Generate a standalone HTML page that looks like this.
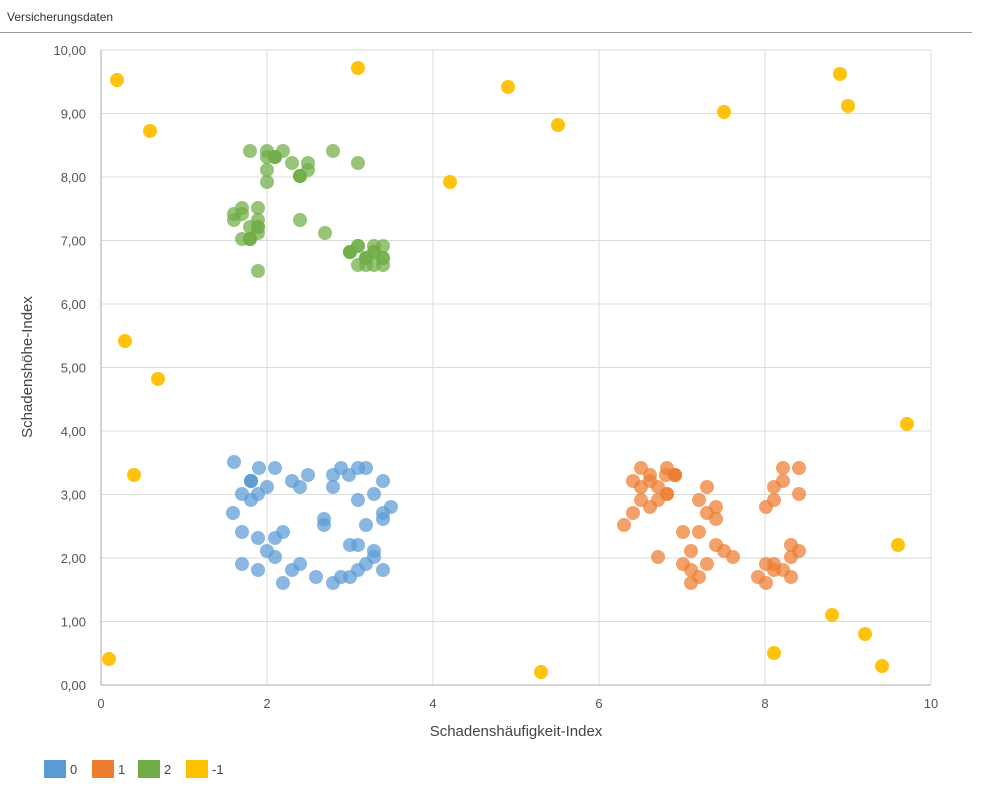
<!DOCTYPE html>
<html><head><meta charset="utf-8"><style>
body{margin:0;background:#fff;font-family:"Liberation Sans",sans-serif;}
</style></head><body>
<svg width="982" height="796" xmlns="http://www.w3.org/2000/svg" font-family="Liberation Sans, sans-serif">
<text x="7" y="21" font-size="12" fill="#333">Versicherungsdaten</text>
<line x1="0" y1="32.5" x2="972" y2="32.5" stroke="#999"/>
<g id="grid" stroke="#dcdcdc" stroke-width="1"></g>
<g id="lab" font-size="13" fill="#555"></g>
<text x="516" y="736" font-size="15" fill="#444" text-anchor="middle">Schadenshäufigkeit-Index</text>
<text transform="translate(32,367) rotate(-90)" font-size="15" fill="#444" text-anchor="middle">Schadenshöhe-Index</text>
<g id="pts"></g>
<rect x="44" y="760" width="22" height="18" fill="#5b9bd5"/><text x="70" y="774" font-size="13" fill="#444">0</text>
<rect x="92" y="760" width="22" height="18" fill="#ed7d31"/><text x="118" y="774" font-size="13" fill="#444">1</text>
<rect x="138" y="760" width="22" height="18" fill="#70ad47"/><text x="164" y="774" font-size="13" fill="#444">2</text>
<rect x="186" y="760" width="22" height="18" fill="#ffc000"/><text x="212" y="774" font-size="13" fill="#444">-1</text>
</svg>
<script>
const NS="http://www.w3.org/2000/svg";
function el(p,t,a,txt){const e=document.createElementNS(NS,t);for(const k in a)e.setAttribute(k,a[k]);if(txt!==undefined)e.textContent=txt;document.getElementById(p).appendChild(e);}
for(let i=0;i<=10;i++){const y=685-i*63.5;el('grid','line',{x1:101,x2:931,y1:y,y2:y});
el('lab','text',{x:86,y:y+5,'text-anchor':'end'},(i+",00"));}
for(let i=0;i<=10;i+=2){const x=101+i*83;el('grid','line',{x1:x,x2:x,y1:50,y2:685});el('lab','text',{x:x,y:708,'text-anchor':'middle'},String(i));}
el('grid','line',{x1:101,x2:101,y1:50,y2:685,stroke:'#aaa'});
el('grid','line',{x1:101,x2:931,y1:685,y2:685,stroke:'#aaa'});
const S={
"#5b9bd5":[[234,462],[251,481],[259,468],[275,468],[242,494],[251,500],[267,487],[258,494],[233,513],[292,481],[300,487],[308,475],[333,475],[341,468],[349,475],[358,468],[366,468],[333,487],[374,494],[383,481],[358,500],[391,507],[383,513],[383,519],[324,519],[324,525],[366,525],[242,532],[258,538],[275,538],[283,532],[267,551],[275,557],[350,545],[358,545],[374,551],[374,557],[242,564],[258,570],[292,570],[300,564],[366,564],[358,570],[283,583],[316,577],[333,583],[341,577],[350,577],[383,570],[251,481],[251,481]],
"#ed7d31":[[641,468],[650,475],[667,468],[633,481],[641,487],[650,481],[658,487],[667,494],[675,475],[666,475],[707,487],[633,513],[624,525],[641,500],[650,507],[658,500],[699,500],[707,513],[716,507],[716,519],[683,532],[699,532],[658,557],[691,551],[716,545],[724,551],[733,557],[683,564],[691,570],[699,577],[691,583],[707,564],[783,468],[799,468],[783,481],[774,487],[774,500],[766,507],[799,494],[791,545],[799,551],[791,557],[766,564],[774,564],[783,570],[774,570],[758,577],[766,583],[791,577],[675,475],[675,475],[667,494]],
"#70ad47":[[250,151],[267,151],[283,151],[333,151],[267,157],[275,157],[292,163],[308,163],[358,163],[267,170],[300,176],[308,170],[267,182],[242,208],[258,208],[234,214],[242,214],[234,220],[258,220],[300,220],[250,227],[258,227],[242,239],[250,239],[258,233],[325,233],[350,252],[358,246],[374,246],[383,246],[366,258],[374,252],[358,265],[366,265],[374,265],[383,258],[383,265],[258,271],[275,157],[275,157],[300,176],[300,176],[350,252],[350,252],[250,239],[250,239],[258,227],[366,258],[366,258],[383,258],[358,246],[374,252]],
"#ffc000":[[117,80],[150,131],[358,68],[508,87],[558,125],[450,182],[724,112],[840,74],[848,106],[125,341],[158,379],[134,475],[907,424],[898,545],[832,615],[865,634],[774,653],[882,666],[541,672],[109,659]]};
for(const c in S)for(const p of S[c])el('pts','circle',{cx:p[0],cy:p[1],r:7,fill:c,'fill-opacity':c=="#ffc000"?0.95:0.72});
</script>
</body></html>
